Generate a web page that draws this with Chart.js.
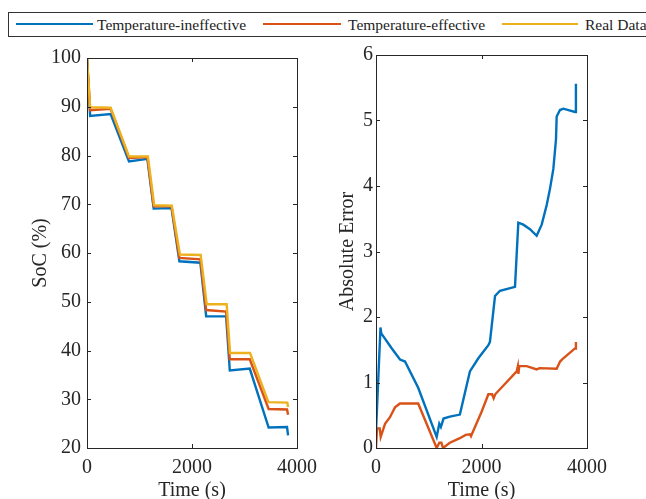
<!DOCTYPE html>
<html>
<head>
<meta charset="utf-8">
<script src="https://cdn.jsdelivr.net/npm/chart.js@4"></script>
<style>
  body { margin: 0; background: #fff; width: 646px; height: 499px; overflow: hidden; position: relative; font-family: "Liberation Serif", serif; }
  canvas { position: absolute; }
  #legend { position: absolute; left: 8px; top: 12px; width: 660px; height: 25px; border: 1px solid #333; box-sizing: border-box; }
  .item { position: absolute; top: 1px; font-size: 15.5px; color: #222; line-height: 21px; white-space: nowrap; }
  .swatch { position: absolute; top: 10px; height: 2px; }
</style>
</head>
<body>
<div id="legend"></div>
<canvas id="socChart" width="330" height="459" style="left:0;top:40px"></canvas>
<canvas id="errChart" width="326" height="459" style="left:320px;top:40px"></canvas>
<script>
// SoC traces
const ineffT = [0, 60, 450, 800, 1150, 1270, 1610, 1760, 2160, 2270, 2650, 2720, 3100, 3460, 3810, 3830];
const ineffSoC = [100, 88.1, 88.5, 78.8, 79.3, 69.1, 69.2, 58.3, 58.0, 47.0, 47.0, 35.9, 36.3, 24.2, 24.3, 22.6];

const effT = [0, 60, 450, 800, 1150, 1270, 1610, 1760, 2160, 2270, 2650, 2720, 3100, 3460, 3810, 3830];
const effSoC = [100, 89.3, 89.6, 79.5, 79.7, 69.6, 69.6, 59.0, 58.7, 48.3, 48.0, 38.2, 38.2, 28.0, 27.9, 26.8];

const realT = [0, 60, 450, 800, 1160, 1280, 1615, 1770, 2165, 2280, 2660, 2725, 3105, 3455, 3815, 3830];
const realSoC = [100, 89.9, 89.8, 79.8, 79.8, 69.8, 69.7, 59.7, 59.6, 49.5, 49.5, 39.5, 39.5, 29.4, 29.3, 28.4];

// absolute error traces
const ineffErrT = [0, 85, 100, 300, 455, 550, 800, 1150, 1200, 1230, 1280, 1400, 1590, 1780, 1940, 2130, 2160, 2256, 2350, 2635, 2698, 2793, 2919, 3046, 3141, 3236, 3299, 3362, 3412, 3425, 3488, 3551, 3773, 3790];
const ineffErr = [0.25, 1.84, 1.75, 1.52, 1.35, 1.32, 0.92, 0.17, 0.37, 0.32, 0.45, 0.48, 0.51, 1.17, 1.37, 1.57, 1.62, 2.32, 2.4, 2.46, 3.44, 3.41, 3.34, 3.24, 3.41, 3.71, 3.96, 4.26, 4.71, 5.06, 5.16, 5.18, 5.13, 5.56];

const effErrT = [0, 20, 70, 89, 171, 265, 360, 455, 800, 1150, 1200, 1240, 1270, 1400, 1590, 1700, 1780, 1800, 2000, 2130, 2200, 2230, 2260, 2667, 2690, 2700, 2715, 2857, 3046, 3100, 3425, 3490, 3551, 3773, 3790];
const effErr = [0, 0.3, 0.3, 0.17, 0.37, 0.47, 0.62, 0.68, 0.68, 0, 0.08, 0.08, 0, 0.08, 0.15, 0.2, 0.21, 0.18, 0.55, 0.82, 0.82, 0.76, 0.82, 1.17, 1.25, 1.13, 1.25, 1.25, 1.2, 1.22, 1.21, 1.32, 1.37, 1.52, 1.62];

const timeTicks = [0, 2000, 4000];
const seriesNames = ["Temperature-ineffective", "Temperature-effective", "Real Data"];
const seriesColors = ["#0072BD", "#D95319", "#EDB120"];

const FONT = "'Liberation Serif', 'Times New Roman', serif";
const INK = "#262626";

function pts(xs, ys) {
  return xs.map((x, i) => ({ x: x, y: ys[i] }));
}

// legend (positions inside the box)
const legendPos = [
  { line: 7, len: 77, text: 88 },
  { line: 254, len: 78, text: 339 },
  { line: 493, len: 76, text: 576 },
];
const legend = document.getElementById("legend");
seriesNames.forEach((name, i) => {
  const sw = document.createElement("div");
  sw.className = "swatch";
  sw.style.left = legendPos[i].line + "px";
  sw.style.width = legendPos[i].len + "px";
  sw.style.background = seriesColors[i];
  legend.appendChild(sw);
  const t = document.createElement("div");
  t.className = "item";
  t.style.left = legendPos[i].text + "px";
  t.textContent = name;
  legend.appendChild(t);
});

// box + inward ticks like matlab
const boxTicks = {
  id: "boxTicks",
  afterDraw(chart) {
    const { ctx, chartArea: a, scales } = chart;
    ctx.save();
    ctx.strokeStyle = INK;
    ctx.lineWidth = 1;
    ctx.strokeRect(a.left + 0.5, a.top + 0.5, a.right - a.left, a.bottom - a.top);
    ctx.beginPath();
    scales.x.ticks.forEach((t) => {
      const px = Math.round(scales.x.getPixelForValue(t.value)) + 0.5;
      ctx.moveTo(px, a.bottom); ctx.lineTo(px, a.bottom - 4);
      ctx.moveTo(px, a.top); ctx.lineTo(px, a.top + 4);
    });
    scales.y.ticks.forEach((t) => {
      const py = Math.round(scales.y.getPixelForValue(t.value)) + 0.5;
      ctx.moveTo(a.left, py); ctx.lineTo(a.left + 4, py);
      ctx.moveTo(a.right, py); ctx.lineTo(a.right - 4, py);
    });
    ctx.stroke();
    ctx.restore();
  },
};

function makeOptions(yMin, yMax, yStep, yTitle, yWidth, titlePad, tickPad, rightPad) {
  return {
    responsive: false,
    animation: false,
    events: [],
    layout: { padding: { left: 0, top: 7, right: rightPad, bottom: 0 } },
    plugins: { legend: { display: false }, tooltip: { enabled: false } },
    elements: { point: { radius: 0 }, line: { borderWidth: 2.4, tension: 0 } },
    scales: {
      x: {
        type: "linear",
        min: 0,
        max: 4000,
        afterBuildTicks: (s) => { s.ticks = timeTicks.map((v) => ({ value: v })); },
        afterFit: (s) => { s.height = 51; },
        grid: { display: false, drawTicks: false },
        border: { display: false },
        ticks: { color: INK, padding: 8, maxRotation: 0, font: { family: FONT, size: 20 }, callback: (v) => String(v) },
        title: { display: true, text: "Time (s)", color: INK, padding: { top: 0, bottom: -4 }, font: { family: FONT, size: 20 } },
      },
      y: {
        min: yMin,
        max: yMax,
        afterFit: (s) => { s.width = yWidth; },
        grid: { display: false, drawTicks: false },
        border: { display: false },
        ticks: { stepSize: yStep, color: INK, padding: tickPad, font: { family: FONT, size: 20 }, callback: (v) => String(v) },
        title: { display: true, text: yTitle, color: INK, padding: { top: titlePad, bottom: 0 }, font: { family: FONT, size: 20 } },
      },
    },
  };
}

new Chart(document.getElementById("socChart"), {
  type: "line",
  data: {
    datasets: [
      { label: seriesNames[0], data: pts(ineffT, ineffSoC), borderColor: seriesColors[0], order: 3 },
      { label: seriesNames[1], data: pts(effT, effSoC), borderColor: seriesColors[1], order: 2 },
      { label: seriesNames[2], data: pts(realT, realSoC), borderColor: seriesColors[2], order: 1 },
    ],
  },
  options: makeOptions(20, 100, 10, "SoC (%)", 87, 29, 6, 33),
  plugins: [boxTicks],
});

new Chart(document.getElementById("errChart"), {
  type: "line",
  data: {
    datasets: [
      { label: seriesNames[0], data: pts(ineffErrT, ineffErr), borderColor: seriesColors[0] },
      { label: seriesNames[1], data: pts(effErrT, effErr), borderColor: seriesColors[1] },
    ],
  },
  options: makeOptions(0, 6, 1, "Absolute Error", 56, 16, 3, 59),
  plugins: [boxTicks],
});
</script>
</body>
</html>
